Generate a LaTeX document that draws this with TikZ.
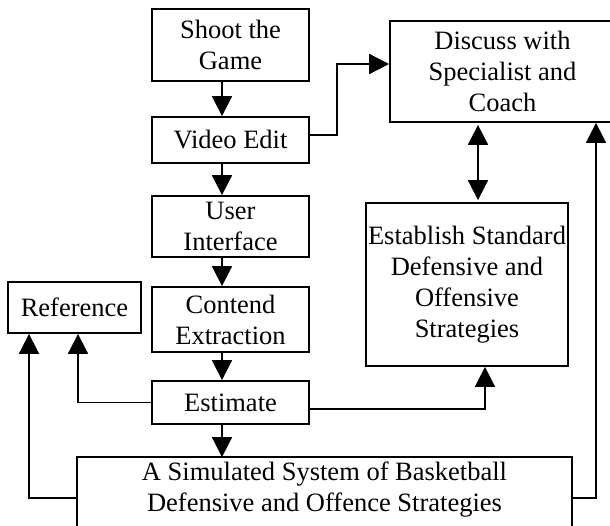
\documentclass[tikz,border=0pt]{standalone}
\usepackage{fontspec}
\setmainfont{Liberation Serif}
\usetikzlibrary{arrows.meta}
\begin{document}
\begin{tikzpicture}[x=1pt,y=-1pt,
  box/.style={draw, line width=1.8pt, inner sep=0pt, align=center, font=\fontsize{26.5}{31}\selectfont},
  arr/.style={line width=1.8pt, -{Triangle[width=20pt,length=20pt]}},
  darr/.style={line width=1.8pt, {Triangle[width=20pt,length=20pt]}-{Triangle[width=20pt,length=20pt]}, shorten <=2pt, shorten >=2pt},
  ]
\clip (0,0) rectangle (610,525);
\node[box, minimum width=157pt, minimum height=72pt] (shoot) at (230.5,45) {Shoot the\\Game};
\node[box, minimum width=157pt, minimum height=46pt] (video) at (230.5,140) {Video Edit};
\node[box, minimum width=157pt, minimum height=61pt] (user) at (230.5,226.5) {User\\Interface};
\node[box, minimum width=157pt, minimum height=65pt] (contend) at (230.5,319.5) {Contend\\Extraction};
\node[box, minimum width=157pt, minimum height=43pt] (estimate) at (230.5,402.5) {Estimate};
\node[box, minimum width=133pt, minimum height=51pt] (reference) at (74.5,307.5) {Reference};
\node[box, draw=none, minimum width=493pt, minimum height=64pt] (sim) at (324.5,490) {A Simulated System of Basketball\\Defensive and Offence Strategies};
\draw[line width=1.8pt] (sim.north west) rectangle ([yshift=-30pt]sim.south east);
\node[box, minimum width=225pt, minimum height=101pt] (discuss) at (502.5,71.5) {Discuss with\\Specialist and\\Coach};
\node[box, minimum width=202pt, minimum height=163pt] (establish) at (467,284.5) {Establish Standard\\Defensive and\\Offensive\\Strategies};

\draw[arr] ([xshift=-8.5pt]shoot.south) -- ([xshift=-8.5pt]video.north);
\draw[arr] ([xshift=-8.5pt]video.south) -- ([xshift=-8.5pt]user.north);
\draw[arr] ([xshift=-8.5pt]user.south) -- ([xshift=-8.5pt]contend.north);
\draw[arr] ([xshift=-8.5pt]contend.south) -- ([xshift=-8.5pt]estimate.north);
\draw[arr] ([xshift=-8.5pt]estimate.south) -- ([xshift=-8.5pt]estimate.south |- sim.north);

\draw[arr] ([yshift=5pt]video.east) -- ++(27,0) |- ([yshift=7.5pt]discuss.west);
\draw[darr] ([xshift=11pt]establish.north) -- ([xshift=11pt]establish.north |- discuss.south);
\draw[arr] ([yshift=-8pt]sim.east) -| ([xshift=93.5pt]discuss.south);
\draw[arr] ([yshift=-6.5pt]estimate.east) -| ([xshift=18pt]establish.south);
\draw[arr] (estimate.west) -| ([xshift=3.5pt]reference.south);
\draw[arr] ([yshift=-8pt]sim.west) -| ([xshift=-45.5pt]reference.south);
\end{tikzpicture}
\end{document}
